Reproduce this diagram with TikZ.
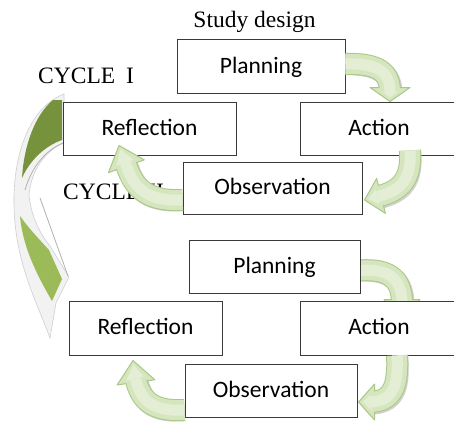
\documentclass[tikz,border=0pt]{standalone}
\usepackage{fontspec}
\setmainfont{Liberation Serif}
\newfontfamily\boxfont{Carlito}
\definecolor{boxline}{HTML}{3A3A3A}
\definecolor{arredge}{HTML}{ABC786}
\definecolor{arrfill}{HTML}{D5E6BF}
\definecolor{arrhl}{HTML}{E3EED5}
\definecolor{darkgreen}{HTML}{76923C}
\definecolor{lightgreen}{HTML}{9BBB59}
\definecolor{rimfill}{HTML}{F2F2F2}
\definecolor{rimline}{HTML}{CFCFCF}
% #1 band path, #2 tip, #3 angle, #4 head length, #5 head width
\newcommand{\cyclearrow}[5]{%
  \begin{scope}[shift={(1.5,1.5)}]
    \draw[line width=22pt, draw=black!18] #1;
    \begin{scope}[shift={#2}, rotate=#3]
      \fill[black!18] (0,0) -- (-#4,#5/2) -- (-#4,-#5/2) -- cycle;
    \end{scope}
  \end{scope}
  \draw[line width=22pt, draw=arredge] #1;
  \begin{scope}[shift={#2}, rotate=#3]
    \filldraw[fill=arrfill, draw=arredge, line width=1pt, line join=round] (0,0) -- (-#4,#5/2) -- (-#4,-#5/2) -- cycle;
    \fill[arrhl] (-4,0) -- (-#4+2,#5/2-9) -- (-#4+2,-#5/2+9) -- cycle;
  \end{scope}
  \draw[line width=20pt, draw=arrfill] #1;
  \draw[line width=11pt, draw=arrhl] #1;
}
\tikzset{
  box/.style={draw=boxline, line width=1pt, fill=white, inner sep=0pt,
    font=\boxfont\fontsize{23.5}{28}\selectfont, text height=13pt, text depth=0pt},
  serif/.style={font=\fontsize{23.5}{28}\selectfont, inner sep=0pt},
}
\begin{document}
\begin{tikzpicture}[x=1pt, y=-1pt]
\useasboundingbox (0,0) rectangle (454,428);
\clip (0,0) rectangle (454,428);
\fill[white] (0,0) rectangle (454,428);

% big transition arrow (cycle I -> cycle II)
\filldraw[fill=rimfill, draw=rimline, line width=0.6pt]
  (64,94) -- (64,143) .. controls (46,150) and (31,170) .. (29,195)
  .. controls (31,216) and (40,234) .. (50,246) -- (69,277) -- (56,303) -- (50,338)
  .. controls (36,300) and (15,262) .. (14,205)
  .. controls (13,150) and (32,106) .. (64,94) -- cycle;
\fill[darkgreen] (53,100) -- (62,100) -- (62,140)
  .. controls (45,146) and (30,160) .. (22,178)
  .. controls (24,145) and (35,115) .. (53,100) -- cycle;
\fill[lightgreen] (20,216) .. controls (30,230) and (40,240) .. (49,250)
  -- (62,279) -- (52,301) .. controls (40,280) and (23,250) .. (20,216) -- cycle;
\draw[black!30, line width=0.8pt] (63,143) .. controls (46,150) and (32,166) .. (25,190);
\draw[black!30, line width=0.8pt] (40,198) -- (68,276);

% boxes of cycle II
\node[box, minimum width=153pt, minimum height=54pt] (r2) at (145.5,328) {Reflection};
\node[box, minimum width=158pt, minimum height=54pt] (a2) at (379,328) {Action};
\node[box, minimum width=172pt, minimum height=53pt] (o2) at (271,390.5) {Observation};
\node[box, minimum width=171pt, minimum height=53pt] (p2) at (274.5,266.5) {Planning};

% arrow whose head is hidden under the Action box of cycle II
\cyclearrow{([yshift=-4pt]p2.east) .. controls (392,268) and (402,282) .. (402,303)}
  {([xshift=23pt,yshift=-15pt]a2.north)}{-90}{16}{36}
\node[box, minimum width=158pt, minimum height=54pt] at (a2) {Action};
\node[box, minimum width=171pt, minimum height=53pt] at (p2) {Planning};

% boxes of cycle I
\node[box, minimum width=168pt, minimum height=53pt] (p1) at (261,66.5) {Planning};
\node[box, minimum width=173pt, minimum height=53pt] (r1) at (149.5,128.5) {Reflection};
\node[box, minimum width=158pt, minimum height=53pt] (a1) at (379,128.5) {Action};
\node[box, minimum width=179pt, minimum height=52pt] (o1) at (272.5,188) {Observation};

% labels
\node[serif, anchor=base] (sd) at (254.5,27.5) {Study design};
\node[serif, anchor=base west] (c1) at (38,83) {CYCLE\hspace{11pt}I};
\node[serif, anchor=base west] (c2) at (63,199) {CYCLE\hspace{8pt}II};

% cycle arrows
\cyclearrow{([yshift=2.5pt]p1.east) .. controls (378,63) and (390,72) .. (390,92)}
  {([xshift=11pt]a1.north)}{-90}{14}{40}
\cyclearrow{([xshift=31pt,yshift=5pt]a1.south) .. controls (412,180) and (400,191) .. (377.6,196.6)}
  {([xshift=2pt,yshift=-12pt]o1.east)}{194}{17}{36}
\cyclearrow{([yshift=-12pt]o1.west) .. controls (142,202) and (132,183) .. (125.4,162.9)}
  {([xshift=-30.5pt,yshift=10pt]r1.south)}{109.6}{22}{38}
\cyclearrow{([xshift=18pt]a2.south) .. controls (399,390) and (390,401) .. (371,402)}
  {([xshift=1pt,yshift=-11.5pt]o2.east)}{180}{16}{36}
\cyclearrow{([yshift=-19.5pt]o2.west) .. controls (150,412) and (140,398) .. (135.6,378.8)}
  {([xshift=-12.5pt,yshift=-5pt]r2.south)}{97.8}{22}{38}
\end{tikzpicture}
\end{document}
